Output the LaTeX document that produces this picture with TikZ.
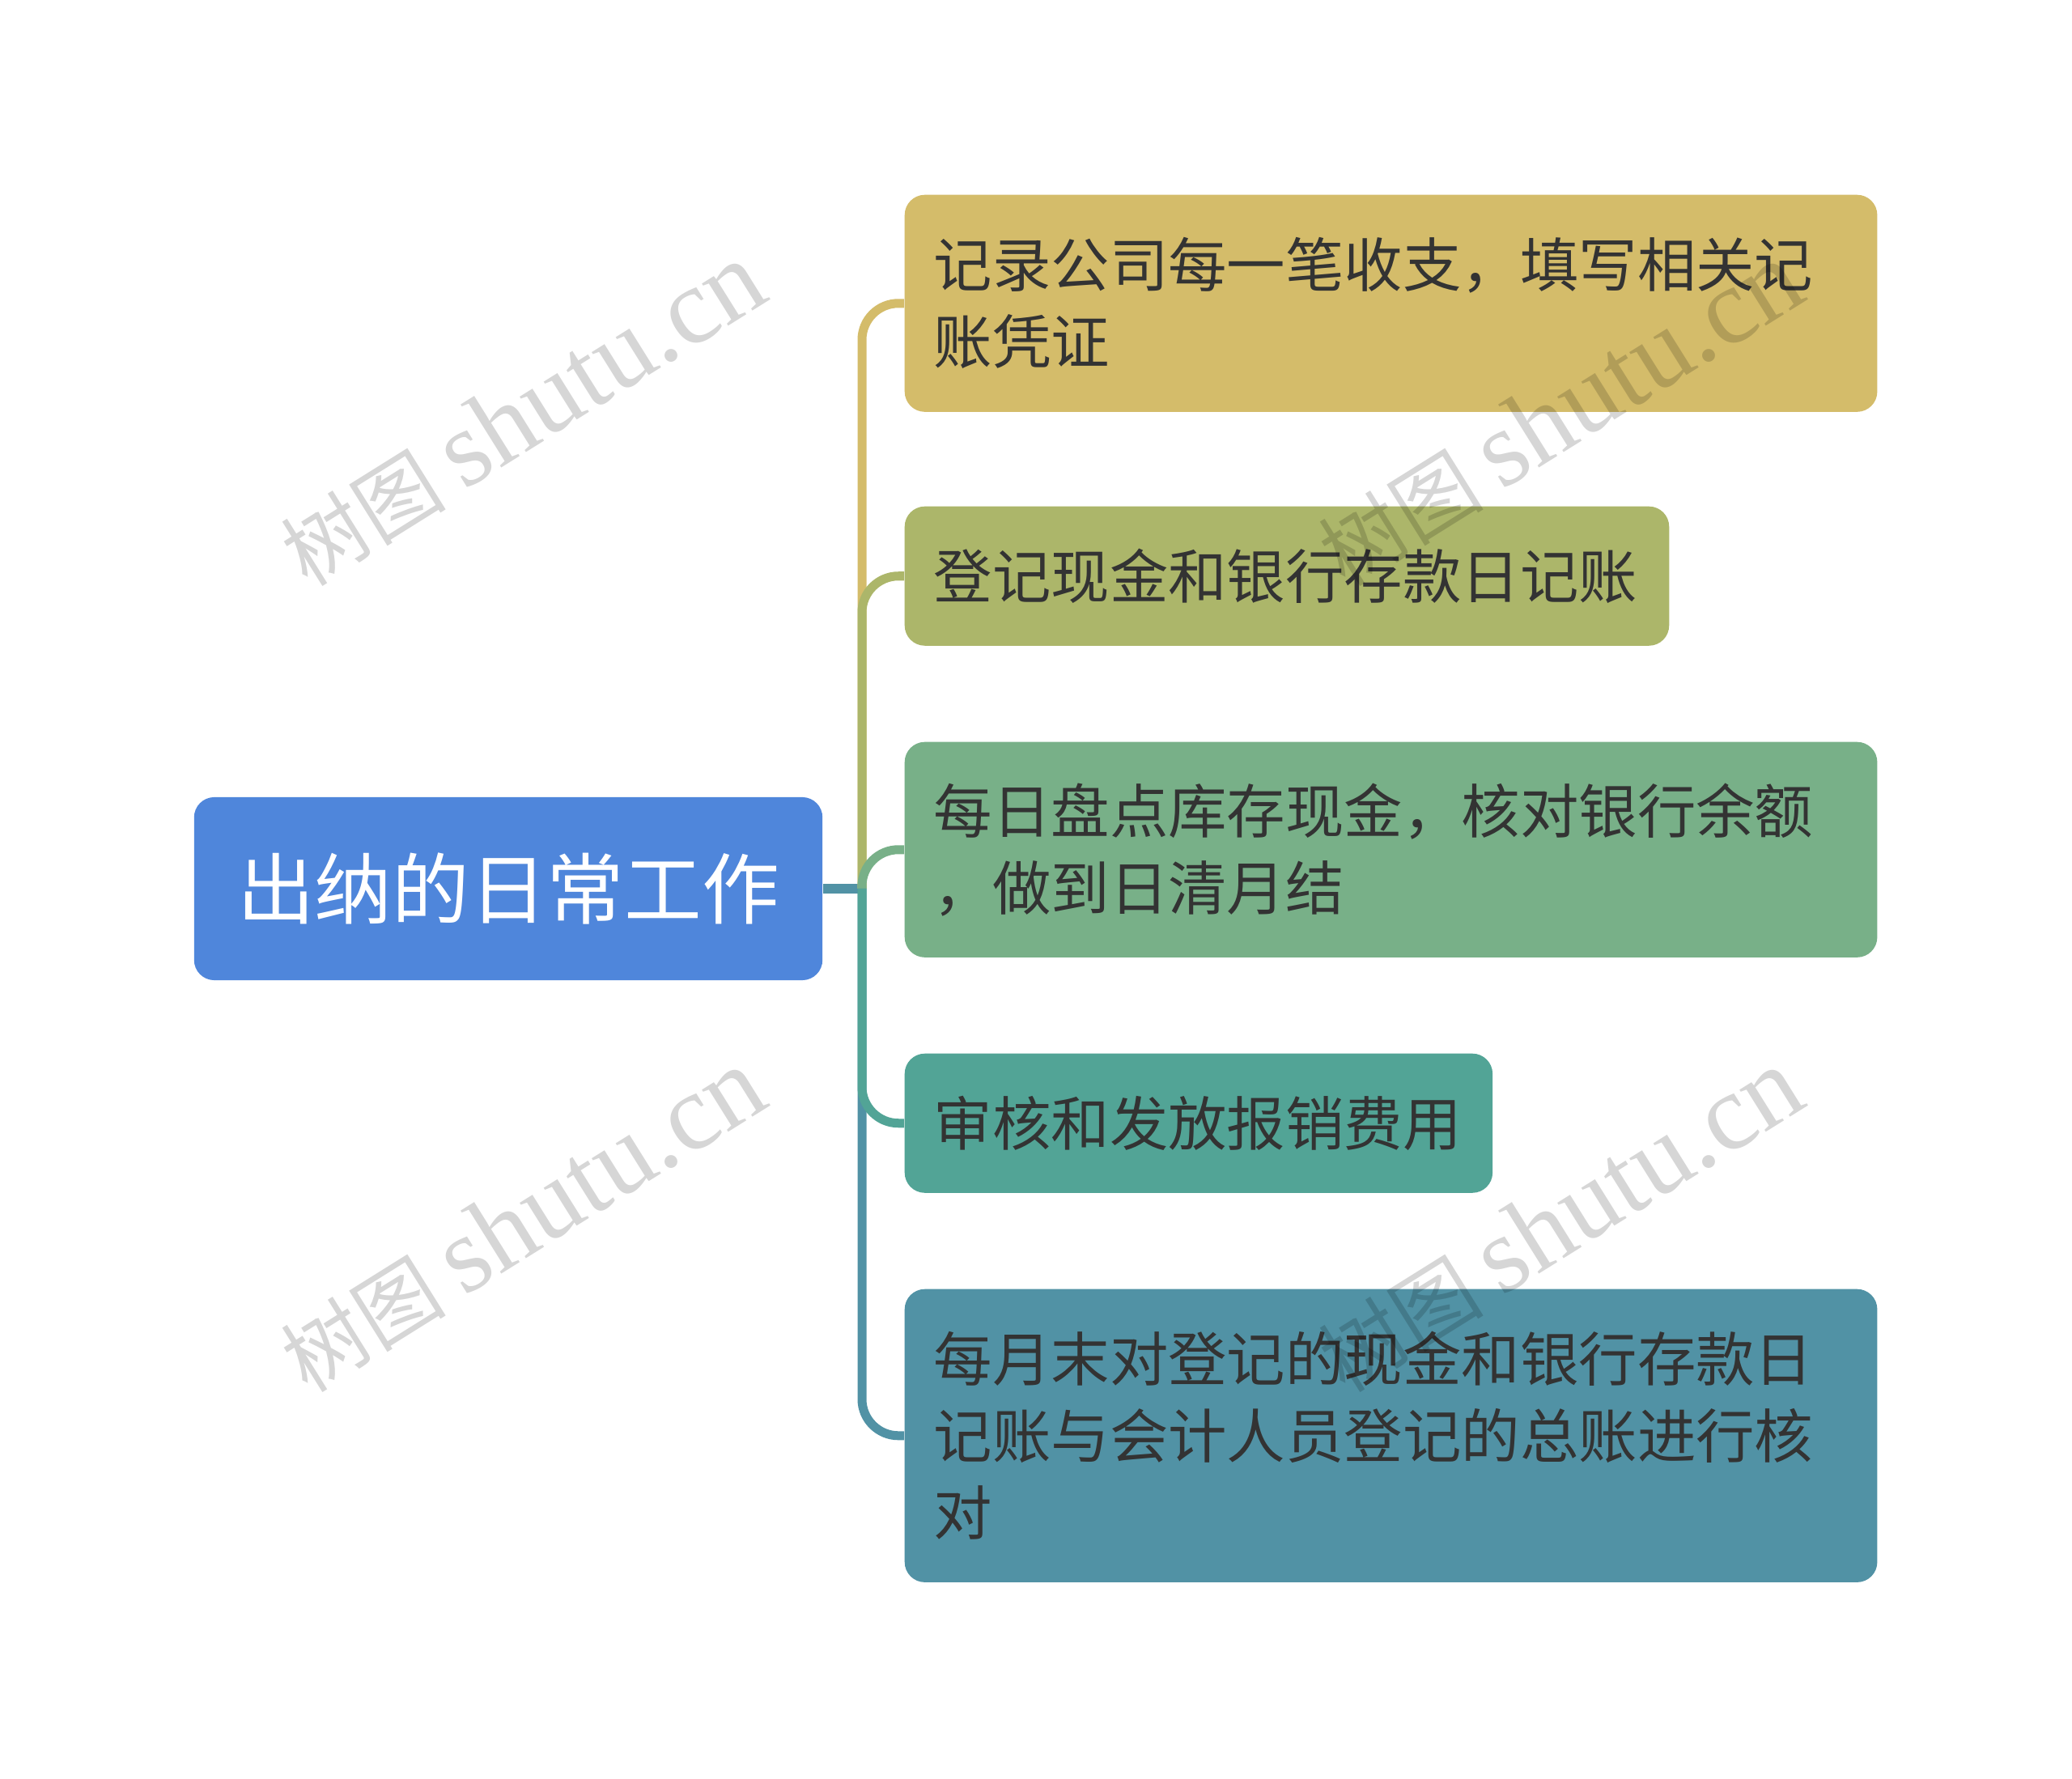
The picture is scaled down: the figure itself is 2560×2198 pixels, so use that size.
\documentclass[tikz,border=0pt]{standalone}
\usepackage{fontspec}
\setmainfont{Noto Sans CJK SC}
\newfontfamily\wmfont{Liberation Serif}

\definecolor{rootblue}{HTML}{4F86DB}
\definecolor{goldbox}{HTML}{D4BC6A}
\definecolor{olivebox}{HTML}{ACB66A}
\definecolor{greenbox}{HTML}{78B088}
\definecolor{tealbox}{HTML}{52A496}
\definecolor{bluebox}{HTML}{5192A5}
\definecolor{textgray}{HTML}{333333}

\tikzset{
  rootbox/.style={rectangle, rounded corners=0.25cm, fill=rootblue, text=white,
    minimum width=7.76cm, minimum height=2.26cm, inner sep=0pt,
    font=\fontsize{27.2pt}{32pt}\selectfont},
  topic/.style={anchor=north west, rectangle, rounded corners=0.25cm,
    inner xsep=0.36cm, inner ysep=0pt, align=left, text=textgray,
    font=\fontsize{20.6pt}{27pt}\selectfont},
  branch/.style={line width=0.11cm, rounded corners=0.45cm},
  wmark/.style={text=black, opacity=0.16, inner sep=0pt, rotate=32,
    font=\fontsize{29pt}{34pt}\selectfont}
}

\begin{document}
\begin{tikzpicture}[x=0.01cm,y=-0.01cm]

%Rahmen
\useasboundingbox (0,0) rectangle (2560,2198);

%Hauptthema
\node[rootbox] (root) at (628,1098) {出纳的日常工作};

%Unterthemen
\node[topic, fill=goldbox, text width=11.29cm, minimum height=2.68cm] (t1) at (1117,240)
  {记录公司每一笔收支，填写相关记\\账凭证};
\node[topic, fill=olivebox, text width=8.72cm, minimum height=1.72cm] (t2) at (1117,625)
  {登记现金和银行存款日记账};
\node[topic, fill=greenbox, text width=11.29cm, minimum height=2.66cm] (t3) at (1117,916)
  {每日盘点库存现金，核对银行余额\\，做到日清月结};
\node[topic, fill=tealbox, text width=6.54cm, minimum height=1.72cm] (t4) at (1117,1301)
  {审核和发放报销费用};
\node[topic, fill=bluebox, text width=11.29cm, minimum height=3.62cm] (t5) at (1117,1592)
  {每月末对登记的现金和银行存款日\\记账与会计人员登记的总账进行核\\对};

%Verbindungen
\coordinate (jn) at (1065,1098);
\draw[branch, bluebox] (root.east) -- (jn);
\draw[branch, goldbox] (jn) |- (t1.west);
\draw[branch, olivebox] (jn) |- (t2.west);
\draw[branch, greenbox] (jn) |- (t3.west);
\draw[branch, bluebox] (jn) |- (t5.west);
\draw[branch, tealbox] (jn) |- (t4.west);

%Wasserzeichen
\node[wmark] (wm1) at (645,512) {树图 {\wmfont\fontsize{38pt}{38pt}\selectfont shutu.cn}};
\node[wmark] (wm2) at (645,1508) {树图 {\wmfont\fontsize{38pt}{38pt}\selectfont shutu.cn}};
\node[wmark] (wm3) at (1927,512) {树图 {\wmfont\fontsize{38pt}{38pt}\selectfont shutu.cn}};
\node[wmark] (wm4) at (1927,1508) {树图 {\wmfont\fontsize{38pt}{38pt}\selectfont shutu.cn}};

\end{tikzpicture}
\end{document}
